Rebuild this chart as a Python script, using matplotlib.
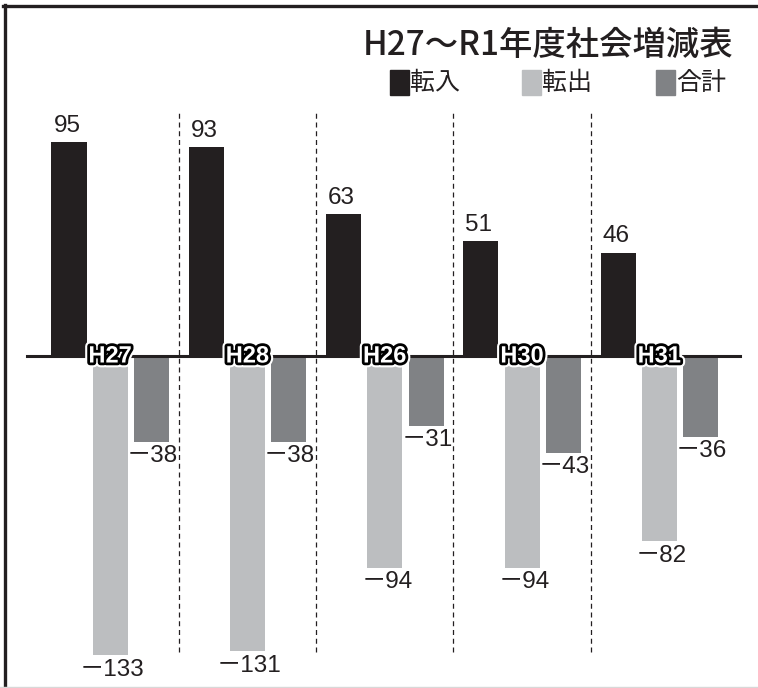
import matplotlib
matplotlib.use("Agg")
import matplotlib.pyplot as plt
import matplotlib.patheffects as pe
from matplotlib.patches import Rectangle
from matplotlib.lines import Line2D

# data
years = ["H27", "H28", "H26", "H30", "H31"]
tennyu = [95, 93, 63, 51, 46]
tenshutsu = [-133, -131, -94, -94, -82]
goukei = [-38, -38, -31, -43, -36]

c_in = "#231f20"
c_out = "#bcbec0"
c_sum = "#808285"

W, H = 758, 688
fig = plt.figure(figsize=(W / 100, H / 100), dpi=100)
ax = fig.add_axes([0, 0, 1, 1])
ax.axis("off")

# pixel-based scale: group pitch 137.3 px, 2.25 px per person
gx0, gpitch = 110.2, 137.3
y0, yscale = 356, 2.25
ax.set_xlim(-gx0 / gpitch, (W - gx0) / gpitch)
ax.set_ylim(-(H - y0) / yscale, y0 / yscale)

off = 41.2 / gpitch
bw = 35 / gpitch
xs = range(len(years))

ax.bar([i - off for i in xs], tennyu, width=bw, color=c_in, zorder=2)
ax.bar([i for i in xs], tenshutsu, width=bw, color=c_out, zorder=2)
ax.bar([i + off for i in xs], goukei, width=bw, color=c_sum, zorder=2)

# separators
for i in range(len(years) - 1):
    ax.plot([i + 0.5, i + 0.5], [-(652 - y0) / yscale, (y0 - 113) / yscale],
            color=c_in, lw=0.9, dashes=(4, 3), zorder=1)

# zero line
ax.plot([(27 - gx0) / gpitch, (740 - gx0) / gpitch], [0, 0], color=c_in, lw=2.2, zorder=3)

num_font = ["Liberation Sans", "Noto Sans CJK JP"]
lab = dict(fontsize=17.5, family=num_font, color=c_in, ha="center")
for i in xs:
    ax.annotate(str(tennyu[i]), (i - off, tennyu[i]), xytext=(-2, 5),
                textcoords="offset pixels", va="bottom", **lab)
    ax.annotate("\uff0d" + str(-tenshutsu[i]), (i, tenshutsu[i]), xytext=(2, -15),
                textcoords="offset pixels", va="center", **lab)
    ax.annotate("\uff0d" + str(-goukei[i]), (i + off, goukei[i]), xytext=(1, -14),
                textcoords="offset pixels", va="center", **lab)
    ax.text(i, 0, years[i], fontsize=17, family="Liberation Sans", weight="bold",
            color="white", ha="center", va="center", zorder=5,
            path_effects=[pe.Stroke(linewidth=7, foreground="white"),
                          pe.Stroke(linewidth=4, foreground="black"),
                          pe.Normal()])

# title and legend
jp = ["Noto Sans CJK JP", "DejaVu Sans"]
fig.text(733 / W, 1 - 45 / H, "H27\u301cR1年度社会増減表", family=jp, fontsize=24,
         weight="medium", color=c_in, ha="right", va="center")

leg = [("転入", c_in, 390), ("転出", c_out, 522), ("合計", c_sum, 656)]
for name, col, px in leg:
    fig.patches.append(Rectangle((px / W, 1 - 95 / H), 19 / W, 25 / H,
                                 transform=fig.transFigure, color=col))
    fig.text((px + 20) / W, 1 - 83 / H, name, family=jp, fontsize=18,
             color=c_in, ha="left", va="center")

# frame
fig.lines.append(Line2D([3 / W, 1], [1 - 6 / H, 1 - 6 / H], transform=fig.transFigure,
                        color=c_in, lw=2.4))
fig.lines.append(Line2D([4.5 / W, 4.5 / W], [0, 1 - 5 / H], transform=fig.transFigure,
                        color=c_in, lw=2.4))
fig.lines.append(Line2D([0, 1], [1.5 / H, 1.5 / H], transform=fig.transFigure,
                        color="#d8d8d8", lw=1))

fig.savefig("out.png", dpi=100)
